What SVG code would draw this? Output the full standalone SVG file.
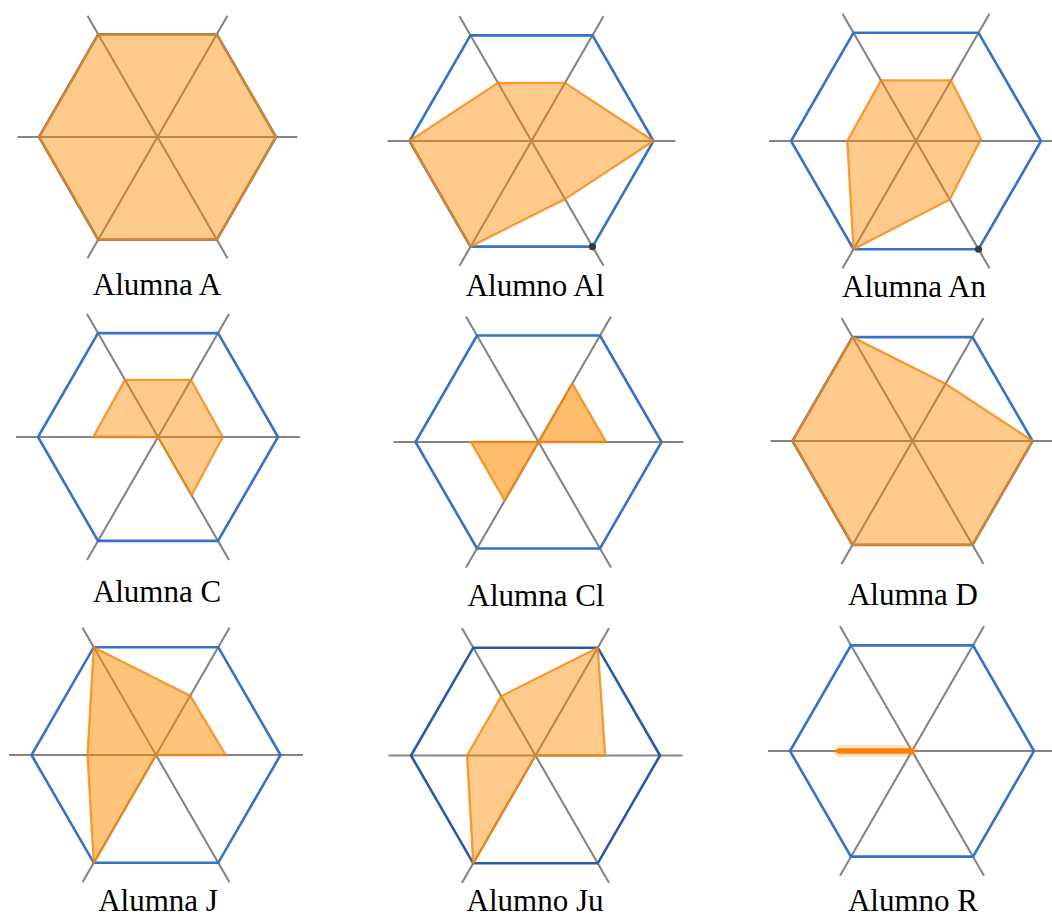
<svg xmlns="http://www.w3.org/2000/svg" width="1052" height="920" viewBox="0 0 1052 920">
<style>
.ax{stroke:#858585;stroke-width:2.1;fill:none}
.hex{stroke:#3574c4;stroke-width:2.6;fill:none;stroke-linejoin:miter}
.hexd{stroke:#2a5aa6;stroke-width:2.6;fill:none}
.poly{fill:#ff8c00;fill-opacity:0.45;stroke:#f5860f;stroke-opacity:0.8;stroke-width:2.3;stroke-linejoin:round}
.lbl{font-family:"Liberation Serif","Times New Roman",serif;font-size:31px;fill:#000;text-anchor:middle}
</style>
<rect width="1052" height="920" fill="#fff"/>

<g id="alumna-a">
<path class="ax" d="M17.5,137H297.5M87.5,15.8L227.5,258.2M227.5,15.8L87.5,258.2"/>
<polygon class="hex" points="276,137 216.75,34.4 98.25,34.4 39,137 98.25,239.6 216.75,239.6"/>
<polygon class="poly" points="276,137 216.75,34.4 98.25,34.4 39,137 98.25,239.6 216.75,239.6"/>
<text class="lbl" x="157" y="295">Alumna A</text>
</g>

<g id="alumno-al">
<path class="ax" d="M387.5,141H675.5M459.5,16.3L603.5,265.7M603.5,16.3L459.5,265.7"/>
<polygon class="hex" points="653.5,141 592.5,35.35 470.5,35.35 409.5,141 470.5,246.65 592.5,246.65"/>
<polygon class="poly" points="409.5,141 497.95,82.9 565.05,82.9 653.5,141 565.05,199.1 470.5,246.65"/>
<circle cx="592.5" cy="246.65" r="3.6" fill="#3a3a3a"/>
<text class="lbl" x="535" y="296">Alumno Al</text>
</g>

<g id="alumna-an">
<path class="ax" d="M769,141H1052M842.5,13.7L989.5,268.3M989.5,13.7L842.5,268.3"/>
<polygon class="hex" points="1041,141 978.5,32.75 853.5,32.75 791,141 853.5,249.25 978.5,249.25"/>
<polygon class="poly" points="847.25,141 881,80.4 951,80.4 981,139 949.75,199.45 853.5,249.25"/>
<circle cx="978.5" cy="249.25" r="3.6" fill="#3a3a3a"/>
<text class="lbl" x="914" y="297">Alumna An</text>
</g>

<g id="alumna-c">
<path class="ax" d="M16,437H300M87,314L229,560M229,314L87,560"/>
<polygon class="hex" points="278,437 218,333.1 98,333.1 38,437 98,540.9 218,540.9"/>
<polygon class="poly" points="93.2,437 125,379.8 191,379.8 222.8,437 191.6,495.2 158,437"/>
<text class="lbl" x="157" y="602">Alumna C</text>
</g>

<g id="alumna-cl">
<path class="ax" d="M393.5,442H683.5M466,316.4L611,567.6M611,316.4L466,567.6"/>
<polygon class="hex" points="661.5,442 600,335.5 477,335.5 415.5,442 477,548.5 600,548.5"/>
<path class="poly" style="fill-opacity:0.58" d="M470.85,442L538.5,442L572.3,383.4L606.15,442L538.5,442L504.7,500.6Z"/>
<text class="lbl" x="536" y="606">Alumna Cl</text>
</g>

<g id="alumna-d">
<path class="ax" d="M770.5,441H1052M841.5,318L983.5,564M983.5,318L841.5,564"/>
<polygon class="hex" points="1032.5,441 972.5,337.1 852.5,337.1 792.5,441 852.5,544.9 972.5,544.9"/>
<polygon class="poly" points="792.5,441 852.5,337.1 945.5,383.8 1032.5,441 972.5,544.9 852.5,544.9"/>
<text class="lbl" x="913" y="605">Alumna D</text>
</g>

<g id="alumna-j">
<path class="ax" d="M9,755H303M82.5,627.7L229.5,882.3M229.5,627.7L82.5,882.3"/>
<polygon class="hex" points="280.5,755 218.25,647.2 93.75,647.2 31.5,755 93.75,862.8 218.25,862.8"/>
<polygon class="poly" style="fill-opacity:0.52" points="87.5,755 93.75,647.2 190.2,695.7 225.7,755 156,755 93.75,862.8"/>
<text class="lbl" x="158" y="911">Alumna J</text>
</g>

<g id="alumno-ju">
<path class="ax" d="M388.5,755.5H682.5M462,628.2L609,882.8M609,628.2L462,882.8"/>
<polygon class="hexd" points="660,755.5 597.75,647.7 473.25,647.7 411,755.5 473.25,863.3 597.75,863.3"/>
<polygon class="poly" points="467,755.5 501.3,696.2 597.75,647.7 605.2,755.5 535.5,755.5 473.25,863.3"/>
<text class="lbl" x="535" y="911">Alumno Ju</text>
</g>

<g id="alumno-r">
<path class="ax" d="M768,751H1052M840,626.3L984,875.7M984,626.3L840,875.7"/>
<polygon class="hex" points="1034,751 973,645.35 851,645.35 790,751 851,856.65 973,856.65"/>
<line x1="838.8" y1="751" x2="912" y2="751" stroke="#ff8c00" stroke-opacity="0.22" stroke-width="12" stroke-linecap="round"/>
<line x1="838.8" y1="751" x2="912" y2="751" stroke="#ff7f00" stroke-width="5.5" stroke-linecap="round"/>
<text class="lbl" x="913" y="911">Alumno R</text>
</g>

<g id="connectors"></g>
</svg>
